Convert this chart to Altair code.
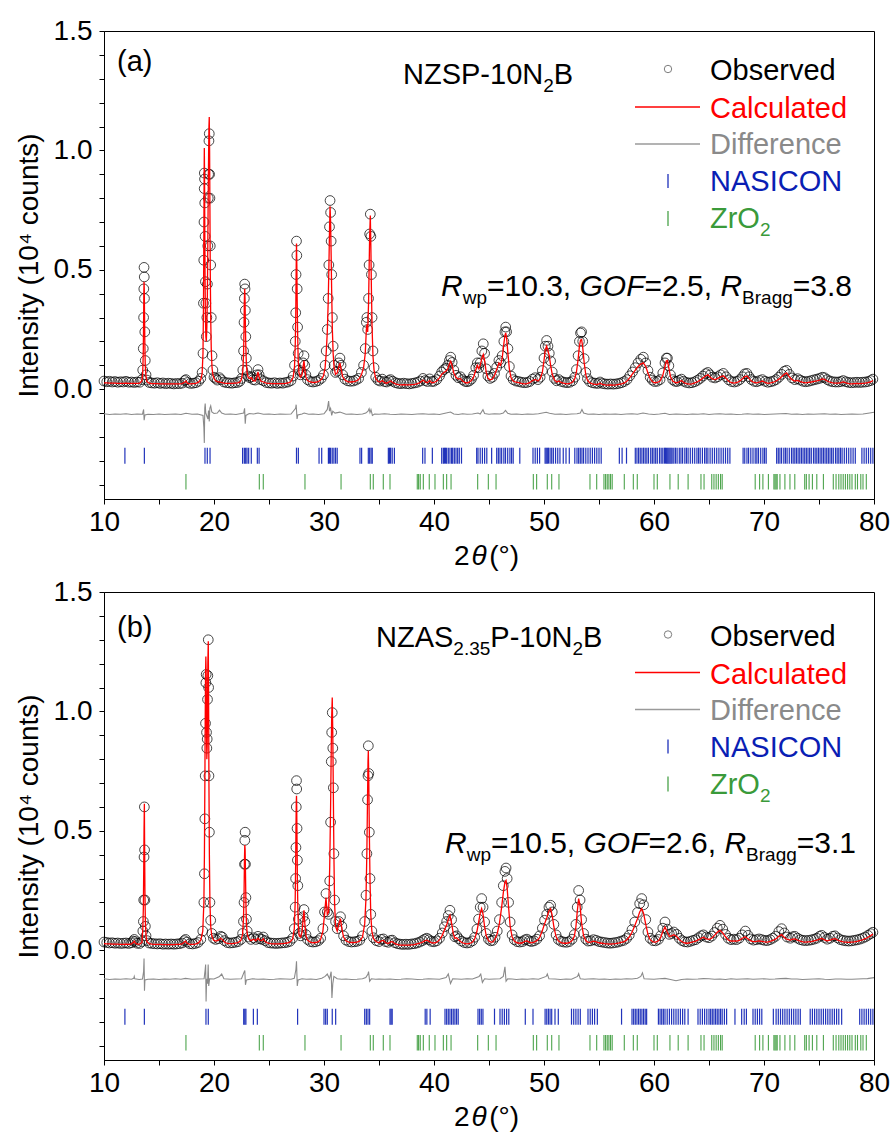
import altair as alt
import pandas as pd

# ---------------- data ----------------
# (2theta, observed, calculated) -- panel (a) NZSP-10N2B
obs_calc_a = [
    (10.0, .034, .026), (10.25, .031, .026), (10.5, .033, .025), (10.75, .030, .025), (11.0, .032, .025),
    (11.25, .029, .024), (11.5, .031, .024), (11.75, .030, .024), (12.0, .033, .025), (12.25, .029, .024),
    (12.5, .030, .024), (12.75, .028, .024), (13.0, .030, .024), (13.25, .029, .025), (13.45, .040, .035),
    (13.52, .080, .070), (13.57, .170, .150), (13.6, .300, .280), (13.62, .420, .400), (13.64, .510, .450),
    (13.66, .470, .420), (13.68, .380, .330), (13.71, .240, .200), (13.75, .120, .100), (13.82, .060, .050),
    (13.9, .038, .032), (14.1, .028, .025), (14.35, .026, .023), (14.6, .025, .023), (14.85, .027, .023),
    (15.1, .024, .022), (15.35, .026, .022), (15.6, .023, .022), (15.85, .025, .022), (16.1, .024, .022),
    (16.35, .022, .022), (16.6, .024, .022), (16.85, .023, .022), (17.1, .025, .023), (17.35, .036, .030),
    (17.45, .040, .034), (17.6, .028, .024), (17.85, .024, .022), (18.1, .025, .023), (18.35, .027, .024),
    (18.6, .033, .030), (18.8, .045, .040), (18.92, .070, .065), (19.0, .150, .150), (19.04, .360, .330),
    (19.07, .540, .560), (19.09, .700, .780), (19.11, .840, .950), (19.12, .905, 1.010), (19.14, .880, .900),
    (19.16, .780, .700), (19.19, .640, .450), (19.22, .450, .300), (19.26, .360, .220), (19.3, .220, .200),
    (19.35, .300, .260), (19.4, .440, .400), (19.44, .600, .620), (19.48, .800, .850), (19.51, .900, .980),
    (19.54, 1.040, 1.100), (19.57, 1.070, 1.140), (19.6, .900, 1.000), (19.63, .800, .750), (19.66, .600, .500),
    (19.7, .520, .300), (19.75, .300, .170), (19.82, .140, .090), (19.9, .080, .060), (20.0, .050, .045),
    (20.15, .045, .035), (20.3, .038, .032), (20.5, .048, .030), (20.65, .040, .028), (20.9, .030, .025),
    (21.15, .027, .024), (21.4, .026, .024), (21.65, .025, .024), (21.9, .027, .025), (22.15, .028, .026),
    (22.35, .033, .030), (22.5, .045, .040), (22.62, .080, .075), (22.69, .160, .150), (22.73, .280, .260),
    (22.76, .380, .370), (22.79, .440, .420), (22.82, .420, .380), (22.85, .330, .280), (22.89, .220, .180),
    (22.94, .130, .110), (23.0, .080, .070), (23.1, .055, .050), (23.25, .048, .045), (23.4, .052, .048),
    (23.55, .040, .036), (23.75, .038, .034), (23.9, .060, .055), (24.0, .082, .072), (24.1, .060, .050),
    (24.25, .040, .034), (24.5, .035, .030), (24.75, .028, .025), (25.0, .026, .024), (25.25, .025, .023),
    (25.5, .027, .023), (25.75, .024, .023), (26.0, .026, .023), (26.25, .025, .023), (26.5, .028, .024),
    (26.75, .030, .026), (27.0, .036, .032), (27.2, .055, .050), (27.32, .100, .095), (27.39, .200, .190),
    (27.43, .320, .300), (27.46, .480, .460), (27.5, .620, .610), (27.53, .560, .520), (27.56, .420, .380),
    (27.6, .260, .240), (27.65, .150, .130), (27.72, .080, .070), (27.85, .060, .050), (28.0, .070, .060),
    (28.1, .110, .095), (28.18, .140, .120), (28.25, .100, .085), (28.35, .060, .050), (28.5, .040, .036),
    (28.75, .032, .030), (29.0, .030, .028), (29.25, .032, .029), (29.5, .036, .032), (29.75, .045, .040),
    (29.95, .060, .055), (30.1, .100, .090), (30.2, .160, .150), (30.3, .250, .240), (30.38, .380, .360),
    (30.44, .520, .500), (30.5, .680, .660), (30.55, .790, .766), (30.6, .740, .700), (30.65, .620, .560),
    (30.7, .480, .400), (30.76, .300, .250), (30.83, .180, .150), (30.92, .100, .090), (31.05, .070, .062),
    (31.2, .075, .068), (31.35, .110, .095), (31.45, .130, .110), (31.55, .100, .085), (31.7, .060, .052),
    (31.9, .042, .038), (32.15, .035, .032), (32.4, .033, .030), (32.65, .034, .031), (32.9, .038, .034),
    (33.15, .045, .040), (33.4, .070, .060), (33.6, .100, .090), (33.75, .170, .150), (33.85, .280, .250),
    (33.9, .300, .270), (33.97, .250, .240), (34.05, .380, .360), (34.1, .520, .500), (34.15, .650, .640),
    (34.21, .733, .727), (34.26, .640, .600), (34.31, .480, .420), (34.37, .300, .260), (34.45, .160, .140),
    (34.55, .090, .080), (34.7, .050, .045), (34.9, .038, .033), (35.1, .034, .030), (35.3, .042, .036),
    (35.5, .032, .027), (35.7, .030, .025), (35.9, .036, .030), (36.05, .040, .034), (36.25, .033, .028),
    (36.5, .027, .022), (36.75, .024, .019), (37.0, .023, .018), (37.25, .025, .019), (37.5, .023, .018),
    (37.75, .022, .018), (38.0, .024, .019), (38.25, .026, .020), (38.5, .029, .023), (38.75, .034, .028),
    (39.0, .045, .038), (39.2, .036, .030), (39.4, .032, .027), (39.6, .043, .036), (39.8, .032, .027),
    (40.0, .033, .028), (40.25, .040, .034), (40.5, .055, .047), (40.7, .072, .062), (40.9, .082, .070),
    (41.1, .088, .076), (41.25, .100, .085), (41.4, .120, .105), (41.52, .134, .117), (41.65, .112, .098),
    (41.8, .080, .068), (42.0, .058, .050), (42.2, .048, .042), (42.4, .052, .045), (42.6, .040, .034),
    (42.8, .033, .028), (43.0, .031, .026), (43.2, .034, .029), (43.4, .042, .036), (43.6, .058, .050),
    (43.8, .090, .080), (43.94, .110, .100), (44.08, .090, .085), (44.2, .110, .100), (44.35, .160, .130),
    (44.48, .190, .145), (44.6, .150, .120), (44.75, .085, .070), (44.9, .055, .046), (45.1, .045, .039),
    (45.3, .050, .042), (45.5, .066, .057), (45.7, .092, .082), (45.9, .120, .110), (46.05, .110, .100),
    (46.2, .140, .130), (46.35, .200, .190), (46.45, .240, .225), (46.52, .260, .236), (46.6, .240, .215),
    (46.72, .170, .150), (46.85, .095, .085), (47.0, .055, .048), (47.2, .040, .034), (47.45, .034, .029),
    (47.7, .032, .027), (47.95, .029, .024), (48.2, .027, .022), (48.45, .028, .023), (48.7, .032, .027),
    (48.95, .042, .036), (49.2, .048, .041), (49.45, .040, .034), (49.65, .050, .043), (49.85, .078, .070),
    (50.0, .130, .120), (50.12, .180, .165), (50.24, .204, .180), (50.36, .180, .160), (50.48, .150, .140),
    (50.6, .118, .100), (50.75, .072, .062), (50.95, .045, .039), (51.15, .035, .030), (51.35, .040, .034),
    (51.6, .032, .027), (51.85, .029, .024), (52.1, .027, .022), (52.35, .029, .024), (52.6, .035, .030),
    (52.8, .050, .044), (52.95, .082, .072), (53.1, .140, .125), (53.22, .200, .180), (53.32, .235, .205),
    (53.42, .240, .208), (53.52, .200, .175), (53.65, .128, .112), (53.8, .070, .060), (53.95, .044, .038),
    (54.15, .032, .027), (54.4, .027, .022), (54.65, .025, .020), (54.9, .024, .020), (55.1, .030, .025),
    (55.3, .024, .020), (55.55, .022, .018), (55.8, .021, .017), (56.05, .022, .018), (56.3, .021, .017),
    (56.55, .022, .018), (56.8, .024, .020), (57.05, .027, .022), (57.3, .032, .026), (57.55, .040, .034),
    (57.8, .056, .048), (58.05, .072, .064), (58.3, .090, .080), (58.55, .110, .095), (58.8, .125, .105),
    (59.03, .134, .110), (59.25, .110, .095), (59.45, .078, .068), (59.65, .050, .044), (59.85, .038, .032),
    (60.05, .032, .027), (60.3, .033, .028), (60.55, .040, .034), (60.8, .068, .058), (61.0, .110, .095),
    (61.12, .130, .118), (61.22, .130, .120), (61.35, .098, .088), (61.5, .060, .052), (61.7, .040, .034),
    (61.9, .033, .028), (62.1, .032, .027), (62.3, .037, .031), (62.5, .042, .036), (62.7, .033, .028),
    (62.95, .028, .023), (63.2, .026, .021), (63.45, .027, .022), (63.7, .031, .026), (63.95, .037, .031),
    (64.2, .045, .038), (64.45, .055, .047), (64.7, .065, .056), (64.9, .070, .060), (65.1, .060, .051),
    (65.3, .050, .043), (65.55, .047, .040), (65.8, .052, .045), (66.05, .060, .052), (66.3, .066, .056),
    (66.55, .052, .045), (66.8, .039, .033), (67.05, .032, .027), (67.3, .030, .025), (67.55, .033, .028),
    (67.8, .040, .034), (68.05, .052, .044), (68.25, .064, .053), (68.45, .066, .055), (68.65, .052, .044),
    (68.85, .040, .034), (69.1, .033, .028), (69.35, .031, .026), (69.6, .036, .030), (69.85, .040, .034),
    (70.1, .033, .028), (70.35, .029, .024), (70.6, .031, .026), (70.85, .034, .029), (71.1, .040, .034),
    (71.35, .050, .042), (71.6, .062, .052), (71.85, .075, .062), (72.06, .079, .068), (72.3, .062, .052),
    (72.55, .047, .040), (72.8, .040, .034), (73.05, .044, .037), (73.3, .038, .032), (73.55, .033, .028),
    (73.8, .031, .026), (74.05, .033, .028), (74.3, .036, .030), (74.55, .039, .033), (74.8, .042, .035),
    (75.05, .045, .038), (75.3, .050, .043), (75.5, .048, .041), (75.75, .040, .034), (76.0, .034, .029),
    (76.25, .031, .026), (76.5, .030, .025), (76.75, .030, .025), (77.0, .032, .027), (77.2, .036, .030),
    (77.45, .031, .026), (77.7, .028, .023), (77.95, .027, .022), (78.2, .028, .023), (78.45, .029, .024),
    (78.7, .028, .023), (78.95, .029, .024), (79.2, .030, .025), (79.45, .032, .027), (79.7, .036, .030),
    (79.9, .042, .036),
]

# (2theta, obs - calc, shifted) -- panel (a)
diff_a = [
    (10.0, -.103), (10.5, -.106), (11.0, -.104), (11.5, -.105), (12.0, -.103), (12.5, -.106), (13.0, -.104),
    (13.5, -.105), (13.6, -.085), (13.65, -.130), (13.72, -.108), (14.0, -.105), (14.5, -.106), (15.0, -.104),
    (15.5, -.106), (16.0, -.105), (16.5, -.104), (17.0, -.106), (17.45, -.101), (18.0, -.105), (18.5, -.104),
    (19.0, -.110), (19.08, -.160), (19.12, -.225), (19.16, -.080), (19.2, -.060), (19.25, -.100), (19.45, -.125),
    (19.5, -.090), (19.57, -.135), (19.62, -.080), (19.7, -.070), (19.8, -.095), (20.0, -.102), (20.3, -.100),
    (20.5, -.088), (20.7, -.100), (21.0, -.105), (21.5, -.104), (22.0, -.106), (22.7, -.100), (22.78, -.080),
    (22.84, -.145), (22.9, -.110), (23.2, -.102), (23.6, -.104), (24.0, -.100), (24.5, -.105), (25.0, -.104),
    (25.5, -.106), (26.0, -.104), (26.5, -.105), (27.0, -.104), (27.42, -.080), (27.47, -.065), (27.55, -.125),
    (27.62, -.108), (28.0, -.104), (28.2, -.100), (28.6, -.105), (29.0, -.104), (29.5, -.106), (30.0, -.103),
    (30.3, -.085), (30.42, -.050), (30.5, -.092), (30.6, -.080), (30.7, -.110), (30.8, -.092), (31.0, -.100),
    (31.45, -.096), (32.0, -.105), (32.5, -.104), (33.0, -.106), (33.5, -.104), (33.8, -.100), (34.0, -.092),
    (34.1, -.082), (34.18, -.098), (34.27, -.086), (34.4, -.110), (34.6, -.104), (35.0, -.105), (35.5, -.103),
    (36.0, -.105), (36.5, -.106), (37.0, -.104), (37.5, -.105), (38.0, -.106), (38.5, -.104), (39.0, -.103),
    (39.5, -.105), (40.0, -.104), (40.5, -.106), (41.0, -.101), (41.5, -.096), (41.8, -.104), (42.2, -.106),
    (42.6, -.103), (43.0, -.105), (43.5, -.104), (44.0, -.100), (44.2, -.104), (44.45, -.086), (44.6, -.102),
    (45.0, -.105), (45.5, -.103), (46.0, -.104), (46.3, -.100), (46.5, -.089), (46.7, -.101), (47.0, -.105),
    (47.5, -.104), (48.0, -.106), (48.5, -.104), (49.0, -.105), (49.5, -.103), (50.2, -.097), (50.5, -.101),
    (51.0, -.105), (51.5, -.104), (52.0, -.106), (52.5, -.104), (53.0, -.103), (53.3, -.100), (53.45, -.085),
    (53.6, -.100), (54.0, -.105), (54.5, -.104), (55.0, -.106), (55.5, -.104), (56.0, -.105), (56.5, -.104),
    (57.0, -.106), (57.5, -.104), (58.0, -.103), (58.5, -.105), (59.0, -.100), (59.5, -.104), (60.0, -.106),
    (60.5, -.104), (61.0, -.101), (61.4, -.106), (62.0, -.104), (62.5, -.105), (63.0, -.106), (63.5, -.104),
    (64.0, -.105), (64.5, -.103), (65.0, -.106), (65.5, -.104), (66.0, -.103), (66.5, -.105), (67.0, -.104),
    (67.5, -.106), (68.0, -.105), (68.5, -.103), (69.0, -.105), (69.5, -.104), (70.0, -.106), (70.5, -.105),
    (71.0, -.104), (71.5, -.103), (72.0, -.102), (72.5, -.105), (73.0, -.104), (73.5, -.106), (74.0, -.104),
    (74.5, -.105), (75.0, -.104), (75.5, -.103), (76.0, -.105), (76.5, -.104), (77.0, -.106), (77.5, -.105),
    (78.0, -.104), (78.5, -.105), (79.0, -.104), (79.6, -.100), (80.0, -.097),
]

# (2theta, observed, calculated) -- panel (b) NZAS2.35P-10N2B
obs_calc_b = [
    (10.0, .034, .027), (10.25, .032, .026), (10.5, .030, .026), (10.75, .031, .025), (11.0, .029, .025),
    (11.25, .030, .025), (11.5, .028, .024), (11.75, .029, .024), (12.0, .030, .025), (12.25, .028, .024),
    (12.5, .031, .026), (12.65, .038, .032), (12.75, .045, .038), (12.85, .036, .030), (13.0, .029, .025),
    (13.25, .028, .025), (13.45, .036, .032), (13.53, .080, .090), (13.58, .120, .180), (13.61, .210, .330),
    (13.64, .390, .500), (13.67, .600, .613), (13.69, .420, .450), (13.72, .210, .250), (13.76, .100, .120),
    (13.82, .060, .060), (13.9, .040, .036), (14.1, .030, .027), (14.35, .028, .025), (14.6, .027, .024),
    (14.85, .026, .024), (15.1, .027, .024), (15.35, .025, .023), (15.6, .026, .023), (15.85, .025, .023),
    (16.1, .026, .023), (16.35, .025, .023), (16.6, .026, .024), (16.85, .027, .024), (17.1, .030, .026),
    (17.3, .040, .034), (17.42, .045, .038), (17.55, .034, .029), (17.8, .027, .024), (18.05, .026, .024),
    (18.3, .028, .025), (18.55, .032, .029), (18.8, .045, .042), (18.98, .080, .080), (19.08, .200, .200),
    (19.13, .320, .400), (19.17, .550, .700), (19.2, .730, .950), (19.23, .950, 1.150), (19.26, 1.120, 1.230),
    (19.29, 1.155, 1.150), (19.32, .912, .900), (19.35, .846, .800), (19.38, .884, .850), (19.41, 1.050, 1.000),
    (19.44, 1.150, 1.200), (19.48, 1.300, 1.294), (19.51, 1.100, 1.050), (19.54, .730, .700), (19.58, .494, .400),
    (19.63, .200, .200), (19.7, .125, .100), (19.8, .070, .060), (19.95, .050, .042), (20.15, .045, .038),
    (20.4, .048, .042), (20.6, .058, .050), (20.75, .055, .045), (20.95, .040, .034), (21.2, .032, .028),
    (21.45, .030, .027), (21.7, .031, .027), (21.95, .033, .029), (22.2, .036, .032), (22.45, .045, .041),
    (22.6, .070, .066), (22.68, .120, .130), (22.73, .200, .230), (22.77, .360, .380), (22.8, .460, .440),
    (22.83, .494, .420), (22.86, .360, .330), (22.9, .220, .200), (22.95, .130, .110), (23.02, .080, .068),
    (23.15, .055, .048), (23.35, .045, .040), (23.6, .052, .046), (23.8, .045, .040), (24.0, .058, .050),
    (24.15, .048, .042), (24.35, .045, .040), (24.48, .055, .048), (24.65, .040, .036), (24.9, .032, .029),
    (25.15, .030, .027), (25.4, .029, .026), (25.65, .028, .026), (25.9, .029, .026), (26.15, .030, .027),
    (26.4, .031, .028), (26.65, .033, .030), (26.9, .037, .034), (27.15, .050, .046), (27.3, .090, .090),
    (27.38, .180, .200), (27.42, .300, .350), (27.45, .430, .500), (27.48, .600, .620), (27.5, .710, .647),
    (27.52, .675, .600), (27.55, .510, .450), (27.58, .377, .300), (27.62, .270, .180), (27.67, .130, .100),
    (27.75, .070, .060), (27.88, .060, .055), (28.0, .080, .075), (28.1, .140, .130), (28.18, .170, .167),
    (28.26, .120, .110), (28.36, .065, .060), (28.5, .045, .042), (28.75, .036, .034), (29.0, .034, .031),
    (29.25, .035, .032), (29.5, .040, .036), (29.7, .050, .046), (29.9, .090, .080), (30.05, .160, .150),
    (30.18, .237, .220), (30.3, .160, .150), (30.42, .150, .160), (30.52, .290, .350), (30.6, .536, .600),
    (30.66, .790, .850), (30.7, .912, .980), (30.75, .995, 1.058), (30.8, .846, .900), (30.85, .680, .650),
    (30.9, .404, .400), (30.96, .210, .200), (31.05, .120, .100), (31.2, .090, .080), (31.35, .120, .110),
    (31.5, .140, .132), (31.62, .100, .090), (31.78, .060, .055), (32.0, .042, .039), (32.25, .036, .034),
    (32.5, .034, .032), (32.75, .035, .032), (33.0, .037, .034), (33.25, .042, .039), (33.5, .060, .055),
    (33.7, .120, .110), (33.82, .230, .220), (33.9, .404, .420), (33.96, .630, .650), (34.0, .730, .790),
    (34.03, .856, .835), (34.07, .740, .720), (34.12, .494, .500), (34.18, .300, .300), (34.25, .150, .150),
    (34.35, .080, .080), (34.5, .052, .048), (34.75, .040, .035), (35.0, .036, .031), (35.2, .045, .039),
    (35.4, .047, .041), (35.6, .036, .031), (35.85, .033, .028), (36.05, .040, .035), (36.2, .042, .036),
    (36.45, .031, .027), (36.7, .027, .023), (36.95, .025, .021), (37.2, .024, .021), (37.45, .025, .021),
    (37.7, .024, .021), (37.95, .026, .022), (38.2, .027, .023), (38.45, .030, .026), (38.7, .034, .029),
    (38.95, .040, .034), (39.15, .046, .039), (39.35, .050, .042), (39.55, .044, .037), (39.75, .037, .032),
    (40.0, .035, .030), (40.25, .039, .033), (40.5, .050, .043), (40.75, .072, .062), (40.95, .098, .085),
    (41.15, .120, .105), (41.3, .145, .128), (41.45, .167, .146), (41.6, .128, .112), (41.75, .080, .070),
    (41.9, .056, .049), (42.06, .060, .052), (42.25, .048, .042), (42.5, .038, .033), (42.75, .032, .028),
    (43.0, .030, .026), (43.25, .032, .028), (43.5, .039, .034), (43.7, .054, .047), (43.9, .088, .078),
    (44.05, .130, .115), (44.2, .180, .155), (44.33, .216, .174), (44.46, .180, .150), (44.6, .118, .098),
    (44.75, .070, .060), (44.95, .046, .040), (45.15, .039, .034), (45.35, .041, .035), (45.55, .054, .047),
    (45.75, .080, .070), (45.95, .128, .112), (46.15, .200, .180), (46.3, .270, .240), (46.45, .330, .285),
    (46.55, .344, .292), (46.65, .300, .260), (46.78, .200, .180), (46.92, .118, .102), (47.1, .064, .056),
    (47.3, .044, .038), (47.55, .036, .031), (47.8, .034, .029), (48.05, .036, .031), (48.25, .043, .037),
    (48.45, .046, .039), (48.65, .039, .034), (48.85, .036, .031), (49.1, .039, .034), (49.35, .046, .040),
    (49.6, .060, .052), (49.85, .092, .082), (50.05, .125, .110), (50.25, .150, .135), (50.45, .180, .165),
    (50.6, .188, .174), (50.75, .160, .145), (50.9, .108, .097), (51.1, .064, .056), (51.3, .045, .039),
    (51.55, .037, .032), (51.8, .034, .029), (52.05, .033, .029), (52.3, .036, .031), (52.55, .046, .040),
    (52.75, .065, .057), (52.9, .108, .097), (53.02, .180, .160), (53.15, .250, .216), (53.28, .210, .185),
    (53.42, .128, .112), (53.6, .070, .060), (53.8, .046, .040), (54.0, .038, .033), (54.25, .039, .034),
    (54.5, .044, .038), (54.75, .041, .035), (55.0, .036, .031), (55.25, .034, .029), (55.5, .032, .027),
    (55.75, .030, .026), (56.0, .029, .025), (56.25, .030, .026), (56.5, .032, .027), (56.75, .034, .029),
    (57.0, .038, .033), (57.25, .041, .035), (57.5, .049, .042), (57.75, .063, .055), (58.0, .086, .075),
    (58.25, .118, .102), (58.5, .158, .132), (58.7, .195, .160), (58.88, .216, .174), (59.05, .190, .155),
    (59.25, .128, .108), (59.45, .076, .066), (59.65, .050, .044), (59.9, .040, .035), (60.15, .039, .034),
    (60.4, .045, .039), (60.6, .060, .052), (60.8, .092, .078), (61.0, .118, .097), (61.2, .088, .076),
    (61.4, .066, .057), (61.6, .070, .060), (61.8, .076, .065), (62.06, .066, .057), (62.3, .050, .044),
    (62.55, .040, .035), (62.8, .035, .030), (63.05, .034, .029), (63.3, .037, .032), (63.55, .041, .035),
    (63.8, .044, .038), (64.05, .052, .044), (64.3, .060, .050), (64.5, .064, .054), (64.75, .055, .047),
    (65.0, .052, .045), (65.25, .059, .050), (65.5, .074, .062), (65.75, .092, .075), (66.0, .104, .083),
    (66.25, .088, .072), (66.5, .066, .056), (66.75, .050, .043), (67.0, .044, .038), (67.25, .046, .039),
    (67.5, .044, .038), (67.75, .050, .041), (68.0, .064, .049), (68.3, .080, .056), (68.55, .062, .047),
    (68.8, .047, .039), (69.05, .042, .036), (69.3, .044, .037), (69.55, .047, .039), (69.8, .044, .037),
    (70.05, .041, .035), (70.3, .040, .034), (70.55, .044, .037), (70.8, .050, .041), (71.05, .058, .046),
    (71.35, .078, .058), (71.6, .090, .065), (71.85, .072, .053), (72.1, .055, .045), (72.4, .050, .042),
    (72.6, .056, .046), (72.8, .058, .047), (73.05, .050, .042), (73.3, .044, .038), (73.55, .041, .035),
    (73.8, .040, .034), (74.05, .041, .035), (74.3, .043, .036), (74.55, .046, .039), (74.8, .050, .042),
    (75.05, .058, .046), (75.25, .062, .049), (75.5, .053, .043), (75.75, .046, .039), (76.0, .050, .042),
    (76.25, .058, .046), (76.45, .060, .048), (76.7, .051, .042), (76.95, .044, .038), (77.2, .041, .035),
    (77.45, .039, .034), (77.7, .038, .033), (77.95, .039, .034), (78.2, .041, .035), (78.45, .043, .037),
    (78.7, .046, .040), (78.95, .050, .043), (79.2, .055, .048), (79.45, .062, .054), (79.7, .069, .061),
    (79.9, .075, .067),
]

diff_b = [
    (10.0, -.120), (10.5, -.123), (11.0, -.121), (11.5, -.122), (12.0, -.120), (12.5, -.122), (12.7, -.118),
    (12.75, -.110), (12.8, -.120), (13.2, -.123), (13.5, -.121), (13.6, -.090), (13.64, -.035), (13.68, -.170),
    (13.72, -.125), (14.0, -.122), (14.5, -.121), (15.0, -.123), (15.5, -.121), (16.0, -.122), (16.5, -.120),
    (17.0, -.122), (17.4, -.118), (18.0, -.122), (18.5, -.121), (19.1, -.120), (19.2, -.080), (19.24, -.060),
    (19.28, -.215), (19.33, -.120), (19.42, -.140), (19.47, -.060), (19.52, -.150), (19.6, -.120), (20.0, -.121),
    (20.5, -.110), (20.7, -.100), (20.9, -.120), (21.5, -.122), (22.0, -.121), (22.5, -.120), (22.75, -.090),
    (22.8, -.085), (22.86, -.145), (22.95, -.125), (23.5, -.120), (24.0, -.122), (24.5, -.121), (25.0, -.123),
    (25.5, -.122), (26.0, -.120), (26.5, -.121), (27.0, -.122), (27.3, -.118), (27.45, -.080), (27.5, -.047),
    (27.57, -.150), (27.65, -.125), (28.0, -.120), (28.4, -.122), (28.8, -.121), (29.3, -.123), (29.8, -.118),
    (30.1, -.110), (30.3, -.100), (30.5, -.120), (30.65, -.090), (30.72, -.200), (30.8, -.140), (30.9, -.110),
    (31.2, -.120), (31.6, -.122), (32.0, -.121), (32.5, -.123), (33.0, -.122), (33.5, -.120), (33.8, -.115),
    (34.0, -.100), (34.05, -.090), (34.15, -.130), (34.3, -.120), (34.7, -.122), (35.0, -.121), (35.5, -.122),
    (36.0, -.121), (36.5, -.123), (37.0, -.122), (37.5, -.120), (38.0, -.121), (38.5, -.123), (39.0, -.122),
    (39.5, -.120), (40.0, -.121), (40.5, -.122), (41.1, -.115), (41.3, -.100), (41.5, -.140), (41.7, -.120),
    (42.1, -.121), (42.5, -.122), (43.0, -.120), (43.5, -.121), (44.1, -.110), (44.25, -.100), (44.4, -.135),
    (44.6, -.120), (45.0, -.122), (45.5, -.121), (46.0, -.120), (46.3, -.110), (46.45, -.070), (46.55, -.130),
    (46.7, -.120), (47.1, -.121), (47.5, -.123), (48.0, -.121), (48.5, -.122), (49.0, -.120), (49.5, -.122),
    (50.2, -.110), (50.3, -.100), (50.45, -.120), (51.0, -.121), (51.5, -.123), (52.0, -.121), (52.5, -.122),
    (53.05, -.110), (53.15, -.098), (53.3, -.120), (53.7, -.122), (54.0, -.121), (54.5, -.120), (55.0, -.122),
    (55.5, -.121), (56.0, -.123), (56.5, -.121), (57.0, -.122), (57.5, -.120), (58.0, -.121), (58.5, -.118),
    (58.8, -.110), (58.95, -.095), (59.1, -.120), (59.5, -.121), (60.0, -.122), (60.5, -.120), (61.0, -.118),
    (61.5, -.123), (62.0, -.128), (62.5, -.123), (63.0, -.121), (63.5, -.122), (64.0, -.121), (64.5, -.119),
    (65.0, -.120), (65.5, -.122), (66.0, -.121), (66.5, -.123), (67.0, -.120), (67.5, -.122), (68.0, -.121),
    (68.5, -.120), (69.0, -.122), (69.5, -.121), (70.0, -.120), (70.5, -.122), (71.0, -.121), (71.5, -.119),
    (72.0, -.118), (72.5, -.121), (73.0, -.121), (73.5, -.123), (74.0, -.122), (74.5, -.121), (75.0, -.120),
    (75.5, -.122), (76.0, -.123), (76.5, -.121), (77.0, -.121), (77.5, -.122), (78.0, -.122), (78.5, -.121),
    (79.0, -.120), (79.4, -.119), (79.7, -.117), (80.0, -.115),
]

# Bragg reflection positions (2theta)
nasicon_a = [
    11.9, 13.67, 19.18, 19.39, 19.64, 22.6, 22.76, 22.88, 23.0, 23.15, 23.39, 23.94, 24.1, 27.5, 27.67,
    29.55, 29.79, 30.4, 30.5, 30.6, 30.75, 30.9, 31.05, 31.2, 33.27, 33.42, 34.03, 34.15, 34.28, 34.39,
    35.85, 35.95, 36.05, 36.2, 36.4, 38.97, 39.18, 39.85, 40.7, 40.85, 40.95, 41.05, 41.15, 41.3, 41.45,
    41.6, 41.7, 41.85, 42.0, 42.15, 42.3, 42.5, 43.88, 44.0, 44.2, 44.4, 44.6, 44.8, 45.24, 45.7, 45.85,
    46.0, 46.15, 46.35, 46.5, 46.7, 46.9, 47.05, 47.2, 47.8, 49.0, 49.2, 49.4, 49.6, 50.1, 50.2, 50.3,
    50.4, 50.55, 50.7, 50.85, 51.05, 51.25, 51.45, 51.75, 52.0, 52.3, 52.8, 53.0, 53.15, 53.3, 53.45,
    53.6, 53.8, 54.0, 54.2, 54.4, 54.6, 54.8, 55.0, 55.2, 56.85, 57.1, 57.5, 58.3, 58.45, 58.6, 58.75,
    58.9, 59.05, 59.2, 59.35, 59.5, 59.7, 59.85, 60.0, 60.15, 60.3, 60.5, 60.65, 60.8, 60.95, 61.05,
    61.15, 61.25, 61.35, 61.45, 61.55, 61.65, 61.8, 61.95, 62.1, 62.3, 62.45, 62.6, 62.8, 62.95, 63.1,
    63.3, 63.5, 63.7, 63.9, 64.05, 64.2, 64.4, 64.6, 64.75, 64.9, 65.1, 65.3, 65.5, 65.7, 65.9, 66.1,
    66.3, 66.5, 66.7, 66.9, 68.1, 68.25, 68.45, 68.6, 68.8, 69.0, 69.2, 69.35, 69.5, 69.7, 69.9, 70.05,
    70.2, 71.15, 71.3, 71.45, 71.6, 71.8, 71.95, 72.1, 72.3, 72.5, 72.65, 72.8, 72.95, 73.1, 73.25,
    73.4, 73.55, 73.7, 73.85, 74.0, 74.15, 74.3, 74.5, 74.65, 74.8, 74.95, 75.1, 75.25, 75.4, 75.55,
    75.7, 75.85, 76.0, 76.15, 76.3, 76.5, 76.65, 76.8, 76.95, 77.1, 77.3, 77.5, 77.7, 77.9, 78.1, 78.3,
    78.9, 79.1, 79.3, 79.5, 79.7, 79.9,
]
nasicon_b = [
    11.9, 13.67, 19.27, 19.48, 22.7, 22.8, 22.9, 23.58, 23.94, 27.6, 30.0, 30.15, 30.3, 30.75, 31.06,
    33.7, 33.85, 34.0, 34.15, 36.0, 36.1, 36.2, 39.2, 39.35, 39.65, 41.0, 41.15, 41.3, 41.45, 41.6, 41.75,
    41.9, 42.05, 42.2, 44.0, 44.15, 44.3, 44.45, 45.5, 46.0, 46.2, 46.4, 46.6, 46.8, 48.3, 49.0, 50.1,
    50.25, 50.4, 50.55, 50.7, 51.0, 51.3, 52.5, 52.7, 52.9, 53.1, 53.3, 54.0, 54.2, 54.4, 54.6, 54.85,
    57.05, 58.0, 58.15, 58.3, 58.45, 58.6, 58.75, 58.9, 59.05, 59.2, 59.33, 60.4, 60.55, 60.7, 60.85,
    61.0, 61.2, 61.4, 61.6, 61.8, 62.0, 62.2, 62.4, 62.6, 62.8, 63.1, 64.0, 64.2, 64.4, 64.6, 64.8, 65.0,
    65.15, 65.3, 65.45, 65.6, 65.75, 65.9, 66.05, 66.2, 66.4, 66.6, 67.36, 67.97, 68.2, 68.4, 69.0, 69.2,
    69.4, 69.6, 69.8, 70.85, 71.1, 71.3, 71.5, 71.7, 71.9, 72.1, 72.3, 72.5, 72.7, 72.9, 73.1, 73.3,
    74.2, 74.4, 74.6, 74.8, 75.0, 75.2, 75.4, 75.6, 75.8, 76.0, 76.2, 76.4, 76.6, 76.8, 77.06, 78.7,
    78.9, 79.1, 79.3, 79.5, 79.7, 79.9,
]
zro2_pos = [
    17.45, 24.12, 24.48, 28.27, 31.55, 34.21, 34.48, 35.39, 36.0, 38.48, 38.6, 38.75, 39.03, 39.57, 40.09,
    40.85, 41.15, 41.55, 43.97, 44.94, 45.64, 49.03, 49.33, 50.3, 50.7, 51.36, 54.18, 54.79, 55.45, 55.6,
    55.75, 55.9, 56.05, 56.2, 57.3, 58.12, 58.48, 60.0, 60.3, 61.45, 62.2, 63.1, 64.27, 64.55, 65.25,
    65.45, 65.65, 65.85, 66.05, 66.2, 69.2, 69.6, 69.9, 70.4, 70.9, 71.0, 71.1, 71.2, 71.45, 71.9, 72.36,
    72.8, 73.7, 73.85, 74.1, 74.4, 74.8, 75.4, 76.3, 76.55, 76.8, 77.0, 77.2, 77.4, 77.6, 77.8, 78.0,
    78.3, 78.5, 78.8, 79.0, 79.3,
]

x_tick_values = [10, 15, 20, 25, 30, 35, 40, 45, 50, 55, 60, 65, 70, 75, 80]
y_tick_values = [-0.4, -0.3, -0.2, -0.1, 0.0, 0.1, 0.2, 0.3, 0.4, 0.5, 0.6, 0.7, 0.8, 0.9, 1.0,
                 1.1, 1.2, 1.3, 1.4, 1.5]

# ---------------- styling ----------------
FONT = "Liberation Sans"
W, H = 770, 468
BLUE, GREEN, RED, GREY = "#0a1eb4", "#3a9a3a", "#ff0000", "#8a8a8a"

XS = alt.Scale(domain=[10, 80], nice=False, zero=False)
YS = alt.Scale(domain=[-0.46, 1.5], nice=False, zero=False)
XAX = alt.Axis(values=x_tick_values, labelExpr="datum.value % 10 == 0 ? format(datum.value, 'd') : ''",
               title=None, grid=False, tickSize=5, labelPadding=4,
               labelFlush=False, labelOverlap=False, labelFontSize=28,
               labelFont="Liberation Sans", labelColor="black", domainColor="black", tickColor="black")
YAX = alt.Axis(values=y_tick_values,
               labelExpr="datum.value > -0.01 && abs(datum.value * 2 - round(datum.value * 2)) < 0.01 ? format(datum.value, '.1f') : ''",
               title="Intensity (10⁴ counts)", grid=False, tickSize=5, labelPadding=7, titlePadding=10,
               labelFlush=False, labelOverlap=False, labelFontSize=28, titleFontSize=28,
               labelFont="Liberation Sans", titleFont="Liberation Sans", titleFontWeight="normal",
               labelColor="black", titleColor="black", domainColor="black", tickColor="black")

ARIAL = {' ': 278, '(': 333, ')': 333, ',': 278, '-': 333, '.': 278, '=': 584, '°': 400,
         'A': 667, 'B': 667, 'C': 722, 'F': 611, 'G': 778, 'I': 278, 'N': 722, 'O': 778, 'P': 667,
         'R': 722, 'S': 667, 'Z': 611, 'a': 556, 'b': 556, 'c': 500, 'd': 556, 'e': 556, 'g': 556,
         'i': 222, 'l': 222, 'n': 556, 'o': 556, 'p': 556, 'r': 333, 's': 500, 't': 278, 'u': 556,
         'w': 722}


def text_width(s, size):
    return sum(ARIAL.get(c, 556) for c in s) * size / 1000.0


ONE = pd.DataFrame({"k": [0]})


def text_run(segs, x0, y0, color="black", size=29, sub_size=19, sub_dy=8, gap=0.0):
    layers = []
    x = x0
    for s, kind in segs:
        fs = sub_size if kind == "sub" else size
        dy = sub_dy if kind == "sub" else 0
        layers.append(
            alt.Chart(ONE).mark_text(text=s, align="left", baseline="alphabetic", font=FONT, fontSize=fs,
                                     fontStyle="italic" if kind == "i" else "normal", color=color)
            .encode(x=alt.value(x), y=alt.value(y0 + dy))
        )
        x += text_width(s, fs) + gap
    return layers


def legend(dy):
    sx, tx = 564, 606
    L = []
    L.append(alt.Chart(ONE).mark_point(shape="circle", filled=False, size=55, color="#333", strokeWidth=0.9)
             .encode(x=alt.value(sx), y=alt.value(38 + dy)))
    L += text_run([("Observed", "n")], tx, 49 + dy, "black")
    L.append(alt.Chart(ONE).mark_rule(color=RED, strokeWidth=1.3)
             .encode(x=alt.value(531), x2=alt.value(596), y=alt.value(76 + dy)))
    L += text_run([("Calculated", "n")], tx, 87 + dy, RED)
    L.append(alt.Chart(ONE).mark_rule(color="#9a9a9a", strokeWidth=1.3)
             .encode(x=alt.value(531), x2=alt.value(596), y=alt.value(113 + dy)))
    L += text_run([("Difference", "n")], tx, 123 + dy, GREY)
    L.append(alt.Chart(ONE).mark_rule(color=BLUE, strokeWidth=1.2)
             .encode(x=alt.value(sx), y=alt.value(143 + dy), y2=alt.value(157 + dy)))
    L += text_run([("NASICON", "n")], tx, 160 + dy, BLUE)
    L.append(alt.Chart(ONE).mark_rule(color=GREEN, strokeWidth=1.2)
             .encode(x=alt.value(sx), y=alt.value(180 + dy), y2=alt.value(195 + dy)))
    L += text_run([("ZrO", "n"), ("2", "sub")], tx, 197 + dy, GREEN)
    return L


def panel(obs_calc, diff, nasicon, zro2, label, label_pos, name_segs, name_pos, stats_segs, stats_pos, ldy):
    df = pd.DataFrame(obs_calc, columns=["tt", "obs", "calc"])
    dd = pd.DataFrame(diff, columns=["tt", "diff"])
    dn = pd.DataFrame({"tt": nasicon})
    dz = pd.DataFrame({"tt": zro2})
    x = alt.X("tt:Q", scale=XS, axis=XAX)

    observed = alt.Chart(df).mark_point(shape="circle", filled=False, size=95, color="#000000",
                                        strokeWidth=0.9, opacity=0.8).encode(
        x=x, y=alt.Y("obs:Q", scale=YS, axis=YAX))
    calculated = alt.Chart(df).mark_line(color=RED, strokeWidth=1.3).encode(
        x=x, y=alt.Y("calc:Q", scale=YS, axis=YAX))
    difference = alt.Chart(dd).mark_line(color=GREY, strokeWidth=1.1).encode(
        x=x, y=alt.Y("diff:Q", scale=YS, axis=YAX))
    nas = alt.Chart(dn).mark_rule(color=BLUE, strokeWidth=1.2, opacity=0.9).encode(
        x=x, y=alt.YDatum(-0.245, scale=YS, axis=YAX), y2=alt.Y2Datum(-0.312))
    zro = alt.Chart(dz).mark_rule(color=GREEN, strokeWidth=1.1, opacity=0.9).encode(
        x=x, y=alt.YDatum(-0.355, scale=YS, axis=YAX), y2=alt.Y2Datum(-0.42))

    layers = [observed, calculated, difference, nas, zro]
    layers += text_run([(label, "n")], label_pos[0], label_pos[1])
    layers += text_run(name_segs, name_pos[0], name_pos[1])
    layers += text_run(stats_segs, stats_pos[0], stats_pos[1], size=30)
    layers += legend(ldy)
    # x-axis title 2θ(°) with italic θ
    layers += text_run([("2", "n"), ("θ", "i"), ("(°)", "n")], 350, H + 66, size=28, gap=2)
    return alt.layer(*layers).properties(width=W, height=H)


panel_a = panel(
    obs_calc_a, diff_a, nasicon_a, zro2_pos, "(a)", (13, 40),
    [("NZSP-10N", "n"), ("2", "sub"), ("B", "n")], (299, 53),
    [("R", "i"), ("wp", "sub"), ("=10.3, ", "n"), ("GOF", "i"), ("=2.5, ", "n"), ("R", "i"),
     ("Bragg", "sub"), ("=3.8", "n")], (337, 265), 0)

panel_b = panel(
    obs_calc_b, diff_b, nasicon_b, zro2_pos, "(b)", (13, 45),
    [("NZAS", "n"), ("2.35", "sub"), ("P-10N", "n"), ("2", "sub"), ("B", "n")], (272, 55),
    [("R", "i"), ("wp", "sub"), ("=10.5, ", "n"), ("GOF", "i"), ("=2.6, ", "n"), ("R", "i"),
     ("Bragg", "sub"), ("=3.1", "n")], (341, 261), 4.5)

chart = alt.vconcat(panel_a, panel_b, spacing=5).properties(
    padding={"left": 14, "top": 16, "right": 0, "bottom": 0}, background="white"
).configure_view(
    stroke="black", strokeWidth=1
).configure_axis(
    labelFont=FONT, titleFont=FONT, labelFontSize=28, titleFontSize=28, labelColor="black",
    titleColor="black", titleFontWeight="normal", domainColor="black", tickColor="black",
    domainWidth=1, tickWidth=1, labelOverlap=False
)

chart.save("out.html", embed_options={"renderer": "svg", "actions": False})
